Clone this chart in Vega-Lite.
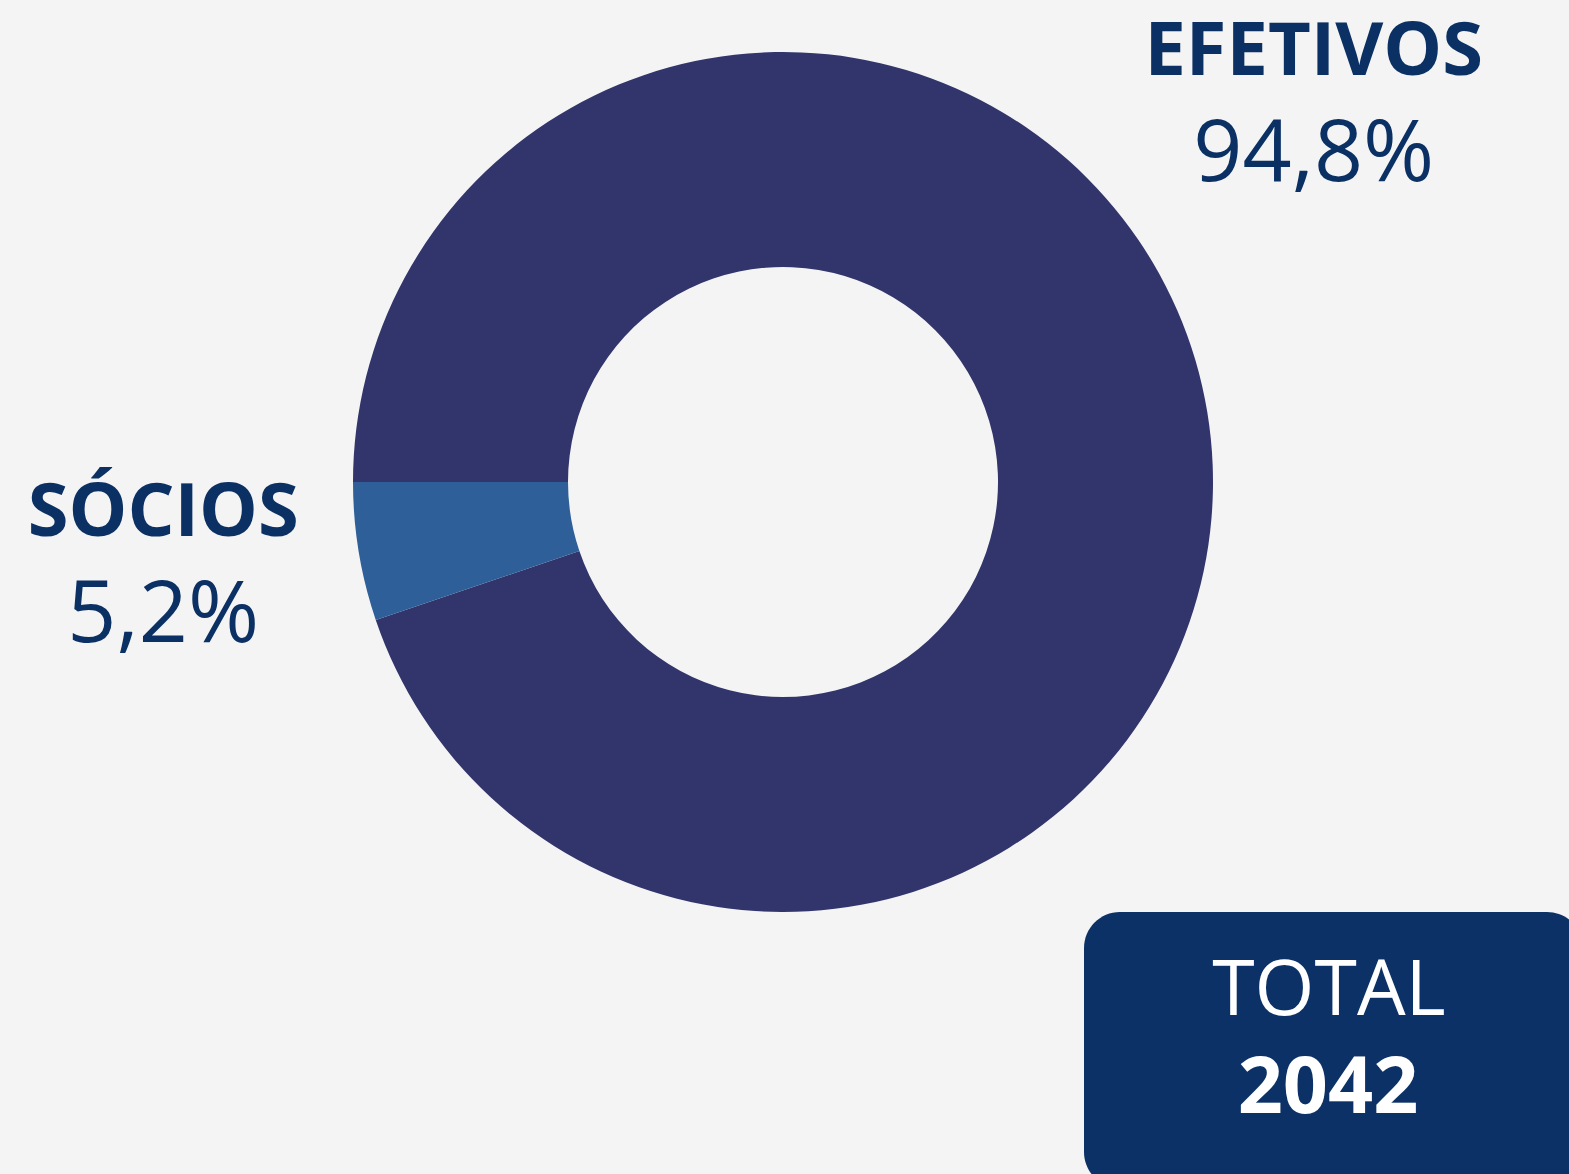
{
  "$schema": "https://vega.github.io/schema/vega-lite/v6.json",
  "width": 1566,
  "height": 964,
  "autosize": {"type": "none"},
  "padding": {"left": 0, "top": 0, "right": 3, "bottom": 210},
  "background": "#f4f4f4",
  "config": {
    "view": {"stroke": null},
    "font": "Open Sans",
    "locale": {"number": {"decimal": ",", "thousands": ".", "grouping": [3], "currency": ["R$", ""]}}
  },
  "datasets": {
    "partes": [
      {"categoria": "EFETIVOS", "percentual": 0.948},
      {"categoria": "SÓCIOS", "percentual": 0.052}
    ],
    "total": [
      {"rotulo": "TOTAL", "valor": 2042}
    ]
  },
  "layer": [
    {
      "data": {"name": "partes"},
      "mark": {"type": "arc", "radius": 430, "radius2": 215},
      "encoding": {
        "theta": {"field": "percentual", "type": "quantitative", "stack": true, "scale": {"range": [4.71238898, 10.99557429]}},
        "color": {"field": "categoria", "type": "nominal", "scale": {"domain": ["EFETIVOS", "SÓCIOS"], "range": ["#31356b", "#2e5f98"]}, "legend": null},
        "order": {"field": "categoria"}
      }
    },
    {
      "data": {"name": "partes"},
      "mark": {
        "type": "text",
        "radius": {"expr": "datum.categoria === 'EFETIVOS' ? 638 : 629"},
        "thetaOffset": {"expr": "datum.categoria === 'EFETIVOS' ? -0.425 : -0.008"},
        "dy": -53,
        "font": "Open Sans",
        "fontWeight": "bold",
        "fontSize": 74,
        "color": "#0b3064",
        "align": "center",
        "baseline": "alphabetic"
      },
      "encoding": {
        "theta": {"field": "percentual", "type": "quantitative", "stack": true},
        "text": {"field": "categoria"},
        "order": {"field": "categoria"}
      }
    },
    {
      "data": {"name": "partes"},
      "mark": {
        "type": "text",
        "radius": {"expr": "datum.categoria === 'EFETIVOS' ? 638 : 629"},
        "thetaOffset": {"expr": "datum.categoria === 'EFETIVOS' ? -0.425 : -0.008"},
        "dy": 53,
        "font": "Open Sans",
        "fontWeight": "normal",
        "fontSize": 86,
        "color": "#0b3064",
        "align": "center",
        "baseline": "alphabetic"
      },
      "encoding": {
        "theta": {"field": "percentual", "type": "quantitative", "stack": true},
        "text": {"field": "percentual", "type": "quantitative", "format": ".1%"},
        "order": {"field": "categoria"}
      }
    },
    {
      "data": {"name": "total"},
      "mark": {"type": "rect", "x": 1084, "x2": 1583, "y": 912, "y2": 1188, "cornerRadius": 36, "color": "#0b3166"},
      "encoding": {}
    },
    {
      "data": {"name": "total"},
      "mark": {"type": "text", "x": 1329, "y": 1015, "font": "Open Sans", "fontWeight": "normal", "fontSize": 77, "color": "#ffffff", "align": "center", "baseline": "alphabetic"},
      "encoding": {"text": {"field": "rotulo"}}
    },
    {
      "data": {"name": "total"},
      "mark": {"type": "text", "x": 1328, "y": 1113, "font": "Open Sans", "fontWeight": "bold", "fontSize": 79, "color": "#ffffff", "align": "center", "baseline": "alphabetic"},
      "encoding": {"text": {"field": "valor", "type": "quantitative", "format": "d"}}
    }
  ]
}
